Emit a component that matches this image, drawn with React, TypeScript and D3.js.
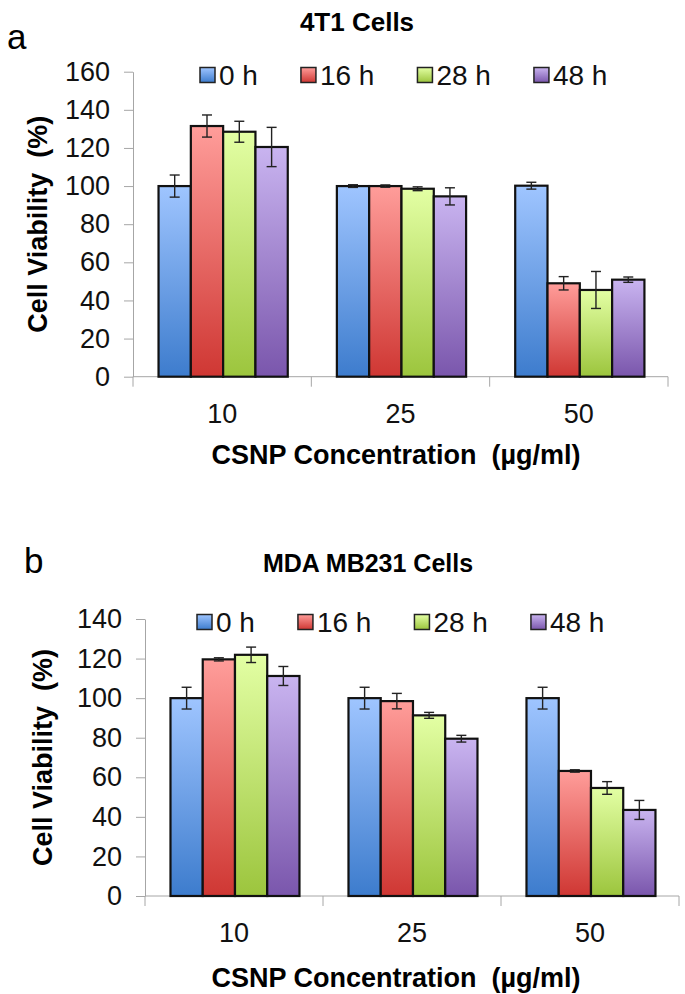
import React, { useEffect, useRef } from "react";
import * as d3 from "d3";

// concentrations (µg/ml) and incubation times
const categories = ["10", "25", "50"];
const seriesNames = ["0 h", "16 h", "28 h", "48 h"];

// panel a: 4T1 cells, mean viability (%) per concentration
const a0h = [100, 100, 100.2];
const a16h = [131.5, 100, 49];
const a28h = [128.5, 98.6, 45.5];
const a48h = [120.5, 94.6, 50.9];
const a0hErr = [5.8, 0.7, 1.8];
const a16hErr = [5.8, 0.6, 3.5];
const a28hErr = [5.5, 1, 9.7];
const a48hErr = [10.3, 4.5, 1.4];
const aTicks = [0, 20, 40, 60, 80, 100, 120, 140, 160];

// panel b: MDA MB231 cells
const b0h = [100, 100, 100];
const b16h = [119.6, 98.5, 63.2];
const b28h = [121.9, 91.3, 54.6];
const b48h = [111.2, 79.5, 43.5];
const b0hErr = [5.5, 5.5, 5.5];
const b16hErr = [0.8, 3.9, 0.6];
const b28hErr = [3.9, 1.5, 3.2];
const b48hErr = [4.8, 1.7, 4.8];
const bTicks = [0, 20, 40, 60, 80, 100, 120, 140];

const gradients = [
	{ top: "#9fc5ff", bottom: "#3d7ccd" },
	{ top: "#ff9d9a", bottom: "#cf3733" },
	{ top: "#e3ffa4", bottom: "#9cc53d" },
	{ top: "#c9b4f0", bottom: "#7a56ac" }
];

const FONT = "'Liberation Sans', Arial, Helvetica, sans-serif";

function drawPanel(root, p) {
	const g = root.append("g");
	const y = d3.scaleLinear().domain([0, p.ticks[p.ticks.length - 1]]).range([p.bottom, p.top]);
	const x0 = d3.scaleBand().domain(categories).range([p.left, p.right]);
	const x1 = d3.scaleBand().domain(seriesNames).range([0, x0.bandwidth()]).paddingOuter(0.76).align(0.52);

	// panel letter and title
	g.append("text").attr("x", p.letterX).attr("y", p.letterY).attr("font-family", FONT)
		.attr("font-size", 35).text(p.letter);
	g.append("text").attr("x", p.titleX).attr("y", p.titleY).attr("text-anchor", "middle")
		.attr("font-family", FONT).attr("font-weight", "bold").attr("font-size", p.titleSize).text(p.title);

	// y axis
	const yAxis = d3.axisLeft(y).tickValues(p.ticks).tickSize(9).tickPadding(14).tickSizeOuter(0);
	const ya = g.append("g").attr("transform", "translate(" + p.left + ",0)").call(yAxis);
	ya.selectAll("line,path").attr("stroke", "#a6a6a6");
	ya.selectAll("text").attr("font-family", FONT).attr("font-size", 27).attr("fill", "#111");

	// x axis, ticks at band edges
	g.append("line").attr("x1", p.left).attr("x2", p.right).attr("y1", p.bottom).attr("y2", p.bottom)
		.attr("stroke", "#a6a6a6");
	const edges = categories.map(c => x0(c)).concat([p.right]);
	g.selectAll(".edge").data(edges).enter().append("line")
		.attr("x1", d => d).attr("x2", d => d).attr("y1", p.bottom).attr("y2", p.bottom + 10)
		.attr("stroke", "#a6a6a6");
	g.selectAll(".cat").data(categories).enter().append("text")
		.attr("x", d => x0(d) + x0.bandwidth() / 2).attr("y", p.bottom + 46).attr("text-anchor", "middle")
		.attr("font-family", FONT).attr("font-size", 27).attr("fill", "#111").text(d => d);

	g.append("text").attr("x", p.xTitleX).attr("y", p.xTitleY).attr("text-anchor", "middle")
		.attr("font-family", FONT).attr("font-weight", "bold").attr("font-size", 27)
		.text("CSNP Concentration\u00a0 (µg/ml)");
	g.append("text").attr("transform", "translate(" + p.yTitleX + "," + (p.top + p.bottom) / 2 + ") rotate(-90)")
		.attr("text-anchor", "middle").attr("font-family", FONT).attr("font-weight", "bold")
		.attr("font-size", 27).text("Cell Viability\u00a0 (%)");

	// bars
	p.values.forEach((vals, si) => {
		const s = seriesNames[si];
		const bars = g.append("g");
		bars.selectAll("rect").data(vals).enter().append("rect")
			.attr("x", (d, i) => x0(categories[i]) + x1(s))
			.attr("y", d => y(d))
			.attr("width", x1.bandwidth())
			.attr("height", d => y(0) - y(d))
			.attr("fill", "url(#grad" + si + ")")
			.attr("stroke", "#111").attr("stroke-width", 2.2);
	});

	// error bars
	p.values.forEach((vals, si) => {
		const s = seriesNames[si];
		const errs = p.errors[si];
		vals.forEach((v, i) => {
			const cx = x0(categories[i]) + x1(s) + x1.bandwidth() / 2;
			const eg = g.append("g").attr("stroke", "#222").attr("stroke-width", 1.4);
			eg.append("line").attr("x1", cx).attr("x2", cx).attr("y1", y(v + errs[i])).attr("y2", y(v - errs[i]));
			eg.append("line").attr("x1", cx - 5).attr("x2", cx + 5).attr("y1", y(v + errs[i])).attr("y2", y(v + errs[i]));
			eg.append("line").attr("x1", cx - 5).attr("x2", cx + 5).attr("y1", y(v - errs[i])).attr("y2", y(v - errs[i]));
		});
	});

	// legend
	let lx = p.legendX;
	seriesNames.forEach((s, si) => {
		g.append("rect").attr("x", lx).attr("y", p.legendY - 7.5).attr("width", 15).attr("height", 15)
			.attr("fill", "url(#grad" + si + ")").attr("stroke", "#222").attr("stroke-width", 1.5);
		const t = g.append("text").attr("x", lx + 19).attr("y", p.legendY + 10)
			.attr("font-family", FONT).attr("font-size", 28).attr("fill", "#111").text(s);
		lx += 19 + t.node().getComputedTextLength() + 43;
	});
}

export default function App() {
	const ref = useRef(null);

	useEffect(() => {
		const svg = d3.select(ref.current);
		svg.selectAll("*").remove();

		const defs = svg.append("defs");
		gradients.forEach((c, i) => {
			const lg = defs.append("linearGradient").attr("id", "grad" + i)
				.attr("x1", 0).attr("y1", 0).attr("x2", 0).attr("y2", 1);
			lg.append("stop").attr("offset", "0%").attr("stop-color", c.top);
			lg.append("stop").attr("offset", "100%").attr("stop-color", c.bottom);
		});

		drawPanel(svg, {
			letter: "a", letterX: 7, letterY: 49, title: "4T1 Cells", titleX: 357, titleY: 31, titleSize: 26,
			left: 133, right: 668, top: 71.7, bottom: 376.7, ticks: aTicks,
			xTitleX: 396, xTitleY: 464, yTitleX: 47,
			legendX: 200, legendY: 75,
			values: [a0h, a16h, a28h, a48h], errors: [a0hErr, a16hErr, a28hErr, a48hErr]
		});
		drawPanel(svg, {
			letter: "b", letterX: 24, letterY: 573, title: "MDA MB231 Cells", titleX: 368, titleY: 572, titleSize: 25,
			left: 145, right: 679, top: 619, bottom: 896, ticks: bTicks,
			xTitleX: 396, xTitleY: 987, yTitleX: 52,
			legendX: 197, legendY: 622,
			values: [b0h, b16h, b28h, b48h], errors: [b0hErr, b16hErr, b28hErr, b48hErr]
		});
	}, []);

	return (
		<svg ref={ref} width={685} height={994}
			style={{ position: "absolute", left: 0, top: 0, background: "#fff" }} />
	);
}
